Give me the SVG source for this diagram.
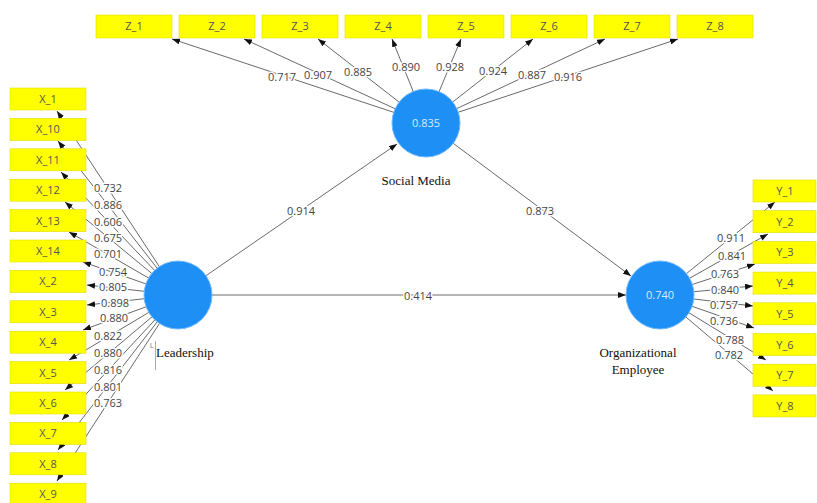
<svg xmlns="http://www.w3.org/2000/svg" width="817" height="503" viewBox="0 0 817 503">
<defs>
<marker id="arr" markerUnits="userSpaceOnUse" markerWidth="8" markerHeight="6" refX="8" refY="3" orient="auto">
<path d="M0,0 L8,3 L0,6 z" fill="#111"/>
</marker>
<style>
.ln{stroke:#6a6a6a;stroke-width:1;fill:none;marker-end:url(#arr)}
.box{fill:#ffff00;stroke:#e2dc00;stroke-width:0.6}
.bt{font-family:"Open Sans","Noto Sans",sans-serif;font-size:11px;fill:#555;text-anchor:middle}
.lbl{font-family:"Open Sans","Noto Sans",sans-serif;font-size:11px;fill:#444;text-anchor:middle;paint-order:stroke;stroke:#fff;stroke-width:3px;stroke-linejoin:round}
.lv{fill:#1e8ff5;stroke:#6fb8ff;stroke-width:1}
.lvt{font-family:"Open Sans","Noto Sans",sans-serif;font-size:11px;fill:#d6ebff;text-anchor:middle}
.name{font-family:"Liberation Serif","Times New Roman",serif;font-size:13px;fill:#111;text-anchor:middle}
</style>
</defs>
<rect width="817" height="503" fill="#fff"/>
<g id="connectors">
<line class="ln" x1="178" y1="295" x2="57" y2="111"/>
<line class="ln" x1="178" y1="295" x2="58" y2="141"/>
<line class="ln" x1="178" y1="295" x2="61" y2="172"/>
<line class="ln" x1="178" y1="295" x2="65" y2="202"/>
<line class="ln" x1="178" y1="295" x2="69" y2="232"/>
<line class="ln" x1="178" y1="295" x2="83" y2="262"/>
<line class="ln" x1="178" y1="295" x2="87" y2="285"/>
<line class="ln" x1="178" y1="295" x2="87" y2="305"/>
<line class="ln" x1="178" y1="295" x2="83" y2="330"/>
<line class="ln" x1="178" y1="295" x2="69" y2="360"/>
<line class="ln" x1="178" y1="295" x2="65" y2="390"/>
<line class="ln" x1="178" y1="295" x2="62" y2="420"/>
<line class="ln" x1="178" y1="295" x2="58" y2="450"/>
<line class="ln" x1="178" y1="295" x2="57" y2="481"/>
<line class="ln" x1="426" y1="123" x2="172" y2="39"/>
<line class="ln" x1="426" y1="123" x2="244" y2="39"/>
<line class="ln" x1="426" y1="123" x2="318" y2="39"/>
<line class="ln" x1="426" y1="123" x2="392" y2="39"/>
<line class="ln" x1="426" y1="123" x2="461" y2="39"/>
<line class="ln" x1="426" y1="123" x2="533" y2="39"/>
<line class="ln" x1="426" y1="123" x2="605" y2="39"/>
<line class="ln" x1="426" y1="123" x2="678" y2="39"/>
<line class="ln" x1="660" y1="295" x2="775" y2="202"/>
<line class="ln" x1="660" y1="295" x2="768" y2="234"/>
<line class="ln" x1="660" y1="295" x2="755" y2="264"/>
<line class="ln" x1="660" y1="295" x2="753" y2="286"/>
<line class="ln" x1="660" y1="295" x2="753" y2="306"/>
<line class="ln" x1="660" y1="295" x2="754" y2="328"/>
<line class="ln" x1="660" y1="295" x2="766" y2="360"/>
<line class="ln" x1="660" y1="295" x2="773" y2="391"/>
<line class="ln" x1="178" y1="295" x2="397" y2="144"/>
<line class="ln" x1="178" y1="295" x2="626" y2="295"/>
<line class="ln" x1="426" y1="123" x2="631" y2="276"/>
<g id="loadings">
<text class="lbl" x="108" y="192">0.732</text>
<text class="lbl" x="108" y="209">0.886</text>
<text class="lbl" x="108" y="226">0.606</text>
<text class="lbl" x="108" y="242">0.675</text>
<text class="lbl" x="108" y="258">0.701</text>
<text class="lbl" x="113" y="276">0.754</text>
<text class="lbl" x="113" y="291">0.805</text>
<text class="lbl" x="115" y="307">0.898</text>
<text class="lbl" x="114" y="322">0.880</text>
<text class="lbl" x="108" y="340">0.822</text>
<text class="lbl" x="108" y="357">0.880</text>
<text class="lbl" x="108" y="374">0.816</text>
<text class="lbl" x="108" y="391">0.801</text>
<text class="lbl" x="108" y="407">0.763</text>
<text class="lbl" x="282" y="81">0.717</text>
<text class="lbl" x="318" y="79">0.907</text>
<text class="lbl" x="358" y="76">0.885</text>
<text class="lbl" x="406" y="71">0.890</text>
<text class="lbl" x="450" y="71">0.928</text>
<text class="lbl" x="493" y="75">0.924</text>
<text class="lbl" x="532" y="79">0.887</text>
<text class="lbl" x="568" y="81">0.916</text>
<text class="lbl" x="731" y="242">0.911</text>
<text class="lbl" x="732" y="260">0.841</text>
<text class="lbl" x="725" y="278">0.763</text>
<text class="lbl" x="725" y="294">0.840</text>
<text class="lbl" x="724" y="309">0.757</text>
<text class="lbl" x="724" y="325">0.736</text>
<text class="lbl" x="730" y="344">0.788</text>
<text class="lbl" x="729" y="359">0.782</text>
<text class="lbl" x="301" y="215">0.914</text>
<text class="lbl" x="540" y="215">0.873</text>
<text class="lbl" x="418" y="300">0.414</text>
</g>
</g>
<g id="X_1"><rect class="box" x="10" y="88" width="76" height="22"/><text class="bt" x="48" y="103">X_1</text></g>
<g id="X_10"><rect class="box" x="10" y="118.4" width="76" height="22"/><text class="bt" x="48" y="133.4">X_10</text></g>
<g id="X_11"><rect class="box" x="10" y="148.8" width="76" height="22"/><text class="bt" x="48" y="163.8">X_11</text></g>
<g id="X_12"><rect class="box" x="10" y="179.2" width="76" height="22"/><text class="bt" x="48" y="194.2">X_12</text></g>
<g id="X_13"><rect class="box" x="10" y="209.6" width="76" height="22"/><text class="bt" x="48" y="224.6">X_13</text></g>
<g id="X_14"><rect class="box" x="10" y="240" width="76" height="22"/><text class="bt" x="48" y="255">X_14</text></g>
<g id="X_2"><rect class="box" x="10" y="270.4" width="76" height="22"/><text class="bt" x="48" y="285.4">X_2</text></g>
<g id="X_3"><rect class="box" x="10" y="300.8" width="76" height="22"/><text class="bt" x="48" y="315.8">X_3</text></g>
<g id="X_4"><rect class="box" x="10" y="331.2" width="76" height="22"/><text class="bt" x="48" y="346.2">X_4</text></g>
<g id="X_5"><rect class="box" x="10" y="361.6" width="76" height="22"/><text class="bt" x="48" y="376.6">X_5</text></g>
<g id="X_6"><rect class="box" x="10" y="392" width="76" height="22"/><text class="bt" x="48" y="407">X_6</text></g>
<g id="X_7"><rect class="box" x="10" y="422.4" width="76" height="22"/><text class="bt" x="48" y="437.4">X_7</text></g>
<g id="X_8"><rect class="box" x="10" y="452.8" width="76" height="22"/><text class="bt" x="48" y="467.8">X_8</text></g>
<g id="X_9"><rect class="box" x="10" y="483.2" width="76" height="22"/><text class="bt" x="48" y="498.2">X_9</text></g>
<g id="Z_1"><rect class="box" x="96" y="15" width="76" height="23"/><text class="bt" x="134" y="30">Z_1</text></g>
<g id="Z_2"><rect class="box" x="179" y="15" width="76" height="23"/><text class="bt" x="217" y="30">Z_2</text></g>
<g id="Z_3"><rect class="box" x="262" y="15" width="76" height="23"/><text class="bt" x="300" y="30">Z_3</text></g>
<g id="Z_4"><rect class="box" x="345" y="15" width="76" height="23"/><text class="bt" x="383" y="30">Z_4</text></g>
<g id="Z_5"><rect class="box" x="428" y="15" width="76" height="23"/><text class="bt" x="466" y="30">Z_5</text></g>
<g id="Z_6"><rect class="box" x="511" y="15" width="76" height="23"/><text class="bt" x="549" y="30">Z_6</text></g>
<g id="Z_7"><rect class="box" x="594" y="15" width="76" height="23"/><text class="bt" x="632" y="30">Z_7</text></g>
<g id="Z_8"><rect class="box" x="677" y="15" width="76" height="23"/><text class="bt" x="715" y="30">Z_8</text></g>
<g id="Y_1"><rect class="box" x="753" y="180" width="63" height="22"/><text class="bt" x="785" y="195">Y_1</text></g>
<g id="Y_2"><rect class="box" x="753" y="210.7" width="63" height="22"/><text class="bt" x="785" y="225.7">Y_2</text></g>
<g id="Y_3"><rect class="box" x="753" y="241.4" width="63" height="22"/><text class="bt" x="785" y="256.4">Y_3</text></g>
<g id="Y_4"><rect class="box" x="753" y="272.1" width="63" height="22"/><text class="bt" x="785" y="287.1">Y_4</text></g>
<g id="Y_5"><rect class="box" x="753" y="302.8" width="63" height="22"/><text class="bt" x="785" y="317.8">Y_5</text></g>
<g id="Y_6"><rect class="box" x="753" y="333.5" width="63" height="22"/><text class="bt" x="785" y="348.5">Y_6</text></g>
<g id="Y_7"><rect class="box" x="753" y="364.2" width="63" height="22"/><text class="bt" x="785" y="379.2">Y_7</text></g>
<g id="Y_8"><rect class="box" x="753" y="394.9" width="63" height="22"/><text class="bt" x="785" y="409.9">Y_8</text></g>
<g id="Leadership">
<circle class="lv" cx="178" cy="295" r="34"/>
<text x="150" y="348" font-family="Liberation Sans, sans-serif" font-size="7" fill="#777">L</text>
<line x1="155.5" y1="341" x2="155.5" y2="370" stroke="#aaa" stroke-width="1"/>
<text class="name" x="156" y="357" text-anchor="start" style="text-anchor:start">Leadership</text>
</g>
<g id="SocialMedia">
<circle class="lv" cx="426" cy="123" r="34"/>
<text class="lvt" x="426" y="127">0.835</text>
<text class="name" x="416" y="185">Social Media</text>
</g>
<g id="OrganizationalEmployee">
<circle class="lv" cx="660" cy="295" r="34"/>
<text class="lvt" x="660" y="299">0.740</text>
<text class="name" x="638" y="357">Organizational</text>
<text class="name" x="638" y="374">Employee</text>
</g>
</svg>
